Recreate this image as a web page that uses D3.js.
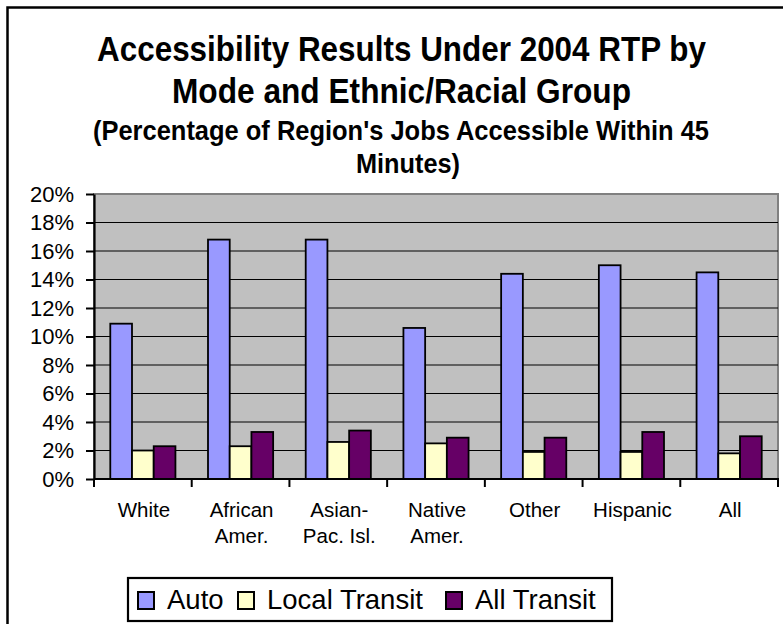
<!DOCTYPE html>
<html>
<head>
<meta charset="utf-8">
<script src="https://cdn.jsdelivr.net/npm/d3@7/dist/d3.min.js"></script>
<style>
  html, body { margin: 0; padding: 0; background: #fff; }
  svg { display: block; }
  text { font-family: Arial, "Liberation Sans", sans-serif; fill: #000; }
</style>
</head>
<body>
<svg id="chart" width="783" height="624"></svg>
<script>
// Ethnic/racial groups on the x axis, with their label lines
const categories = ["White", "African Amer.", "Asian-Pac. Isl.", "Native Amer.", "Other", "Hispanic", "All"];
const categoryLines = [["White"], ["African", "Amer."], ["Asian-", "Pac. Isl."], ["Native", "Amer."], ["Other"], ["Hispanic"], ["All"]];

// Travel modes
const series = ["Auto", "Local Transit", "All Transit"];

// Share of the region's jobs reachable within 45 minutes (%)
const auto         = [10.9, 16.8, 16.8, 10.6, 14.4, 15.0, 14.5];
const localTransit = [2.0, 2.3, 2.6, 2.5, 1.9, 1.9, 1.8];
const allTransit   = [2.3, 3.3, 3.4, 2.9, 2.9, 3.3, 3.0];

// Y axis ticks
const yTicks = [0, 2, 4, 6, 8, 10, 12, 14, 16, 18, 20];

const titleLines = ["Accessibility Results Under 2004 RTP by", "Mode and Ethnic/Racial Group"];
const subtitleLines = ["(Percentage of Region's Jobs Accessible Within 45", "Minutes)"];

const colors = { "Auto": "#9999ff", "Local Transit": "#ffffcc", "All Transit": "#660066" };
const valuesBySeries = { "Auto": auto, "Local Transit": localTransit, "All Transit": allTransit };

const svg = d3.select("#chart");
const plot = { left: 94, right: 778, top: 194, bottom: 479 };

// Outer chart border
svg.append("rect")
  .attr("x", 7.5).attr("y", 7.5)
  .attr("width", 800).attr("height", 640)
  .attr("fill", "#fff").attr("stroke", "#000").attr("stroke-width", 2.5);

// Titles: tall, slightly condensed bold type
const titleWidths = [609, 459];
const subtitleWidths = [616, 104];
const subtitleX = [401, 408];
const title = svg.append("g").attr("font-weight", "bold").attr("text-anchor", "middle");
title.selectAll("text.t").data(titleLines).join("text")
  .attr("class", "t")
  .attr("x", 401.5).attr("y", (d, i) => 61 + i * 42)
  .attr("font-size", 35)
  .attr("textLength", (d, i) => titleWidths[i])
  .attr("lengthAdjust", "spacingAndGlyphs")
  .text(d => d);
title.selectAll("text.s").data(subtitleLines).join("text")
  .attr("class", "s")
  .attr("x", (d, i) => subtitleX[i]).attr("y", (d, i) => 140 + i * 33)
  .attr("font-size", 28)
  .attr("textLength", (d, i) => subtitleWidths[i])
  .attr("lengthAdjust", "spacingAndGlyphs")
  .text(d => d);

// Scales
const x0 = d3.scaleBand().domain(categories).range([plot.left, plot.right]).padding(0);
const x1 = d3.scaleBand().domain(series).range([0, x0.bandwidth()]).paddingInner(0).paddingOuter(0.75);
const y = d3.scaleLinear().domain([0, 20]).range([plot.bottom, plot.top]);

// Plot area
svg.append("rect")
  .attr("x", plot.left).attr("y", plot.top)
  .attr("width", plot.right - plot.left).attr("height", plot.bottom - plot.top)
  .attr("fill", "#c0c0c0").attr("stroke", "#808080").attr("stroke-width", 2);

// Gridlines
svg.append("g").selectAll("line")
  .data(yTicks.filter(t => t > 0 && t < 20))
  .join("line")
  .attr("x1", plot.left).attr("x2", plot.right)
  .attr("y1", d => y(d)).attr("y2", d => y(d))
  .attr("stroke", "#000").attr("stroke-width", 1.2);

// Bars
const groups = svg.append("g").selectAll("g")
  .data(categories)
  .join("g")
  .attr("transform", d => `translate(${x0(d)},0)`);
groups.selectAll("rect")
  .data((c, i) => series.map(s => ({ s, v: valuesBySeries[s][i] })))
  .join("rect")
  .attr("x", d => x1(d.s))
  .attr("width", x1.bandwidth())
  .attr("y", d => y(d.v))
  .attr("height", d => y(0) - y(d.v))
  .attr("fill", d => colors[d.s])
  .attr("stroke", "#000").attr("stroke-width", 1.8);

// Y axis
const yAxis = svg.append("g")
  .attr("transform", `translate(${plot.left},0)`)
  .call(d3.axisLeft(y).tickValues(yTicks).tickSize(8).tickSizeOuter(0).tickPadding(12)
    .tickFormat(d => d + "%"));
yAxis.select(".domain").attr("stroke", "#000").attr("stroke-width", 2.2);
yAxis.selectAll(".tick line").attr("stroke", "#000").attr("stroke-width", 2);
yAxis.selectAll(".tick text").attr("font-size", 22).attr("font-family", null);

// X axis with ticks at category boundaries
const xAxis = svg.append("g").attr("transform", `translate(0,${plot.bottom})`);
xAxis.append("line")
  .attr("x1", plot.left).attr("x2", plot.right + 1)
  .attr("stroke", "#000").attr("stroke-width", 2.2);
xAxis.selectAll("line.tick")
  .data(categories.map(c => x0(c)).concat([plot.right]))
  .join("line")
  .attr("class", "tick")
  .attr("x1", d => d).attr("x2", d => d)
  .attr("y1", 0).attr("y2", 8)
  .attr("stroke", "#000").attr("stroke-width", 2);
xAxis.selectAll("text")
  .data(categories)
  .join("text")
  .attr("text-anchor", "middle")
  .attr("font-size", 20.5)
  .attr("transform", d => `translate(${x0(d) + x0.bandwidth() / 2 + 1},0)`)
  .selectAll("tspan")
  .data((d, i) => categoryLines[i])
  .join("tspan")
  .attr("x", 0)
  .attr("y", (d, i) => 38 + i * 26)
  .text(d => d);

// Legend
const legend = svg.append("g");
legend.append("rect")
  .attr("x", 128).attr("y", 578)
  .attr("width", 484).attr("height", 43)
  .attr("fill", "#fff").attr("stroke", "#000").attr("stroke-width", 2.2);
const legendX = { "Auto": 138, "Local Transit": 238, "All Transit": 446 };
const items = legend.selectAll("g.item").data(series).join("g")
  .attr("class", "item")
  .attr("transform", d => `translate(${legendX[d]},592)`);
items.append("rect")
  .attr("width", 16).attr("height", 17)
  .attr("fill", d => colors[d])
  .attr("stroke", "#000").attr("stroke-width", 2);
items.append("text")
  .attr("x", 29).attr("y", 17)
  .attr("font-size", 27.5)
  .text(d => d);
</script>
</body>
</html>
